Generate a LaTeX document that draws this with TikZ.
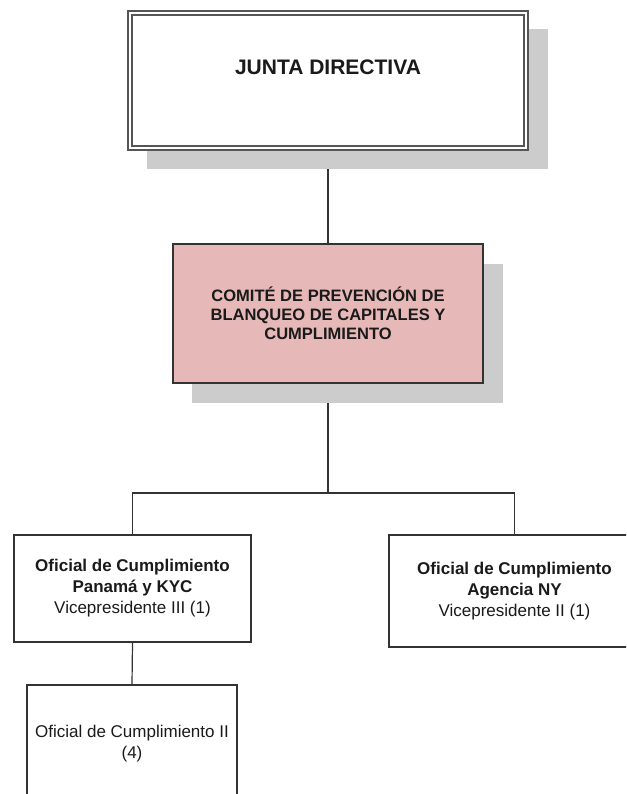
\documentclass[tikz,border=0pt]{standalone}
\usepackage{fontspec}
\setmainfont{Liberation Sans}
\definecolor{shc}{HTML}{CCCCCC}
\definecolor{pinkc}{HTML}{E6B9B8}
\definecolor{linec}{HTML}{333333}
\definecolor{dblc}{HTML}{555555}
\definecolor{txtc}{HTML}{1A1A1A}
\pgfdeclarelayer{connlayer}
\pgfdeclarelayer{shadowlayer}
\pgfsetlayers{connlayer,shadowlayer,main}
\tikzset{
  orgbox/.style={draw=linec, line width=0.9pt, fill=white, rectangle, inner sep=0pt, align=center, text=txtc},
  conn/.style={draw=linec, line width=0.9pt},
  shadowbox/.style={fill=shc},
  big/.style={font=\fontsize{15.75}{18}\selectfont\bfseries},
  mid/.style={font=\fontsize{12.4}{14.25}\selectfont\bfseries},
  small/.style={font=\fontsize{12.75}{15.75}\selectfont}
}
\begin{document}
\begin{tikzpicture}[x=0.75pt,y=-0.75pt]
\useasboundingbox (0,0) rectangle (626,794);
\clip (0,0) rectangle (626,794);
\begin{pgfonlayer}{connlayer}
\fill[white] (0,0) rectangle (626,794);
\end{pgfonlayer}
% shadows
\begin{pgfonlayer}{shadowlayer}
\fill[shadowbox] (147,29) rectangle (548,169);
\fill[shadowbox] (192,264) rectangle (503,403);
\end{pgfonlayer}
% boxes
\node[orgbox, draw=dblc, line width=1.1pt, double=white, double distance=1.9pt,
      minimum width=396*0.75pt, minimum height=135*0.75pt] (junta) at (328,80.5) {};
\node[big, text=txtc] (juntat) at (328,67) {JUNTA DIRECTIVA};
\node[orgbox, fill=pinkc, mid, minimum width=310*0.75pt, minimum height=139*0.75pt] (comite) at (328,313.5)
  {COMITÉ DE PREVENCIÓN DE\\BLANQUEO DE CAPITALES Y\\CUMPLIMIENTO};
\node[orgbox, small, minimum width=237*0.75pt, minimum height=107*0.75pt] (panama) at (132.5,588.5)
  {\textbf{Oficial de Cumplimiento}\\\textbf{Panamá y KYC}\\Vicepresidente III (1)};
\node[orgbox, small, minimum width=251*0.75pt, minimum height=112*0.75pt] (ny) at (514.5,591)
  {\textbf{Oficial de Cumplimiento}\\\textbf{Agencia NY}\\Vicepresidente II (1)};
\node[orgbox, small, minimum width=210*0.75pt, minimum height=118*0.75pt] (oc2) at (132,744)
  {Oficial de Cumplimiento II\\(4)};
% connectors (behind the shadows)
\begin{pgfonlayer}{connlayer}
\coordinate (bus) at (328,493);
\draw[conn] (junta.south) -- (comite.north);
\draw[conn] (comite.south) -- (bus);
\draw[conn] (panama.north) |- (bus) -| (ny.north);
\draw[conn] (panama.south) -- (oc2.north);
\end{pgfonlayer}
\end{tikzpicture}
\end{document}
